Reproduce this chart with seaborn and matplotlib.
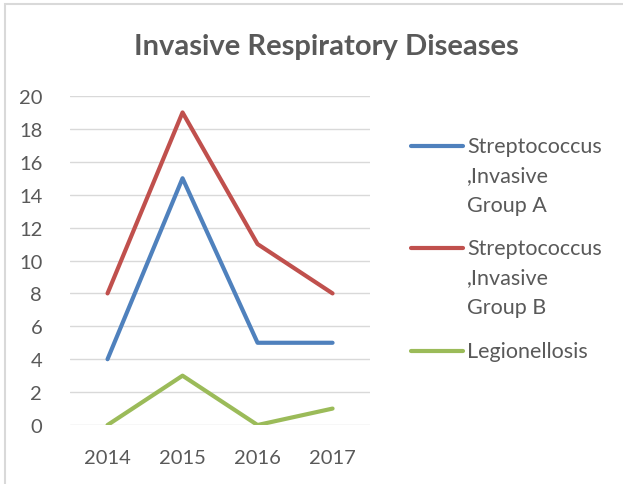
import pandas as pd
import matplotlib.pyplot as plt
import seaborn as sns
from matplotlib.lines import Line2D
from matplotlib.patches import Rectangle

years = ["2014", "2015", "2016", "2017"]
group_a = [4, 15, 5, 5]
group_b = [8, 19, 11, 8]
legionellosis = [0, 3, 0, 1]
series_names = ["Streptococcus\n,Invasive\nGroup A",
                "Streptococcus\n,Invasive\nGroup B",
                "Legionellosis"]
colors = ["#4F81BD", "#C0504D", "#9BBB59"]
y_ticks = [0, 2, 4, 6, 8, 10, 12, 14, 16, 18, 20]

df = pd.DataFrame({"Year": years * 3,
                   "Cases": group_a + group_b + legionellosis,
                   "Series": [s for s in series_names for _ in years]})

sns.set_style("white")
plt.rcParams["font.family"] = ["Lato", "DejaVu Sans"]
text_color = "#595959"

fig = plt.figure(figsize=(6.23, 4.85), dpi=100)
ax = fig.add_axes([0.1124, 0.1216, 0.4816, 0.6784])

sns.lineplot(data=df, x="Year", y="Cases", hue="Series", palette=colors,
             linewidth=3, legend=False, ax=ax, sort=False)
for line in ax.lines:
    line.set_solid_capstyle("round")
    line.set_solid_joinstyle("round")

ax.set_xlim(-0.5, 3.5)
ax.set_ylim(0, 20)
ax.set_yticks(y_ticks)
ax.yaxis.grid(True, color="#D9D9D9", linewidth=1)
ax.set_axisbelow(True)
for s in ax.spines.values():
    s.set_visible(False)
ax.tick_params(axis="both", length=0, labelsize=14.5, colors=text_color)
ax.tick_params(axis="x", pad=17)
ax.tick_params(axis="y", pad=20)
ax.set_xlabel("")
ax.set_ylabel("")

fig.text(0.524, 0.903, "Invasive Respiratory Diseases", ha="center", va="center",
         fontsize=21, fontweight="bold", color=text_color)

# legend, handle aligned with the first text line
legend_tops = [147, 249, 352]
for name, col, ypx in zip(series_names, colors, legend_tops):
    yf = 1 - ypx / 485
    fig.add_artist(Line2D([411 / 623, 463 / 623], [yf, yf], color=col,
                          linewidth=3, solid_capstyle="round"))
    fig.text(467 / 623, yf + 0.021, name, ha="left", va="top", fontsize=15.5,
             color=text_color, linespacing=1.6)

# chart border
fig.add_artist(Rectangle((5 / 623, -0.01), 1.0, 1 - 5 / 485 + 0.01,
                         transform=fig.transFigure, fill=False,
                         edgecolor="#D9D9D9", linewidth=1.5))

fig.savefig("out.png", dpi=100)
